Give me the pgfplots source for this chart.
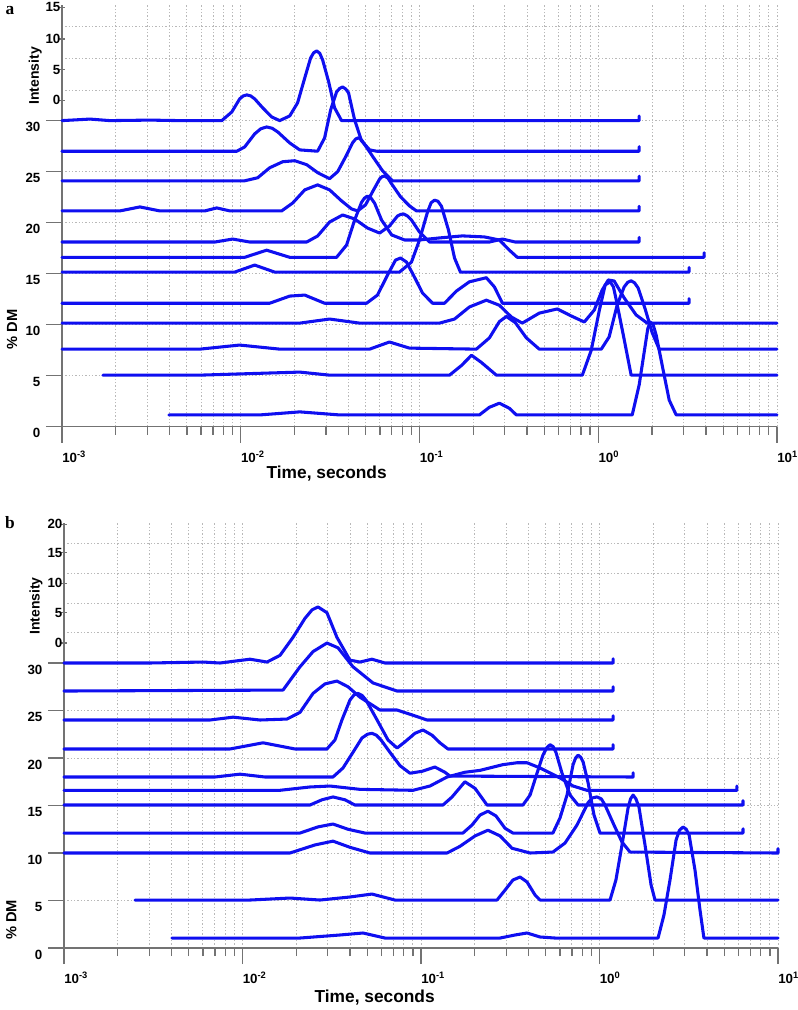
\documentclass[border=0pt]{standalone}
\usepackage{fontspec}
\setmainfont{Liberation Sans}
\newfontfamily\panelfont{Liberation Serif}
\usepackage{pgfplots}
\pgfplotsset{compat=1.18}
\definecolor{curveblue}{RGB}{15,15,240}
\definecolor{axisgray}{RGB}{115,115,115}
\definecolor{gridgray}{RGB}{185,185,185}
\pgfplotsset{
  wf/.style={
    scale only axis, xmin=-3, xmax=1, ymin=0,
    /pgf/number format/assume math mode=true,
    axis x line*=bottom, axis y line*=left,
    axis line style={-, draw=axisgray, line width=1.1pt},
    xtick={-3,-2,-1,0,1},
    xticklabels={10\textsuperscript{-3},10\textsuperscript{-2},10\textsuperscript{-1},10\textsuperscript{0},10\textsuperscript{1}},
    minor xtick={-2.69897,-2.52288,-2.39794,-2.30103,-2.22185,-2.15490,-2.09691,-2.04576,
                 -1.69897,-1.52288,-1.39794,-1.30103,-1.22185,-1.15490,-1.09691,-1.04576,
                 -0.69897,-0.52288,-0.39794,-0.30103,-0.22185,-0.15490,-0.09691,-0.04576,
                 0.30103,0.47712,0.60206,0.69897,0.77815,0.84510,0.90309,0.95424},
    ytick={0,5,10,15,20,25,30},
    tick align=outside, major tick length=12pt, minor tick length=6pt,
    tick style={draw=axisgray, line width=1pt},
    every minor y tick/.style={draw=none},
    xmajorgrids, xminorgrids, ymajorgrids, yminorgrids,
    grid style={draw=gridgray, line width=0.7pt, dash pattern=on 0.9pt off 1.6pt},
    minor grid style={draw=gridgray, line width=0.7pt, dash pattern=on 0.9pt off 1.6pt},
    ticklabel style={font=\bfseries\fontsize{10}{12}\selectfont},
    xticklabel style={anchor=north west, inner sep=0pt, yshift=-6pt},
    yticklabel style={anchor=east, inner sep=0pt, xshift=-4pt, yshift=-5pt},
    extra y tick style={major tick length=4pt, tick align=center, grid=none,
        yticklabel style={yshift=5pt, xshift=5pt}},
    clip=false,
  },
  cv/.style={line width=2.3pt, color=curveblue, line join=round, line cap=round},
}
\begin{document}
\begin{tikzpicture}[x=1pt,y=1pt]
\path[use as bounding box] (0,0) rectangle (597.75,-757.5);

% ---------------- panel a ----------------
\begin{axis}[wf, at={(46.5pt,-320pt)}, anchor=south west, width=536.25pt, height=316pt,
  ymax=41.3, minor ytick={33.0,36.1,39.2},
  extra y ticks={32,35,38,41.1}, extra y tick labels={0,5,10,15}]
\addplot[cv] coordinates {(-3,30) (-2.844,30.15) (-2.732,30) (-2.508,30.05) (-2.341,30) (-2.106,30) (-2.050,30.85) (-2.006,32.13) (-1.986,32.42) (-1.966,32.52) (-1.944,32.42) (-1.922,32.13) (-1.877,31.25) (-1.827,30.36) (-1.782,30) (-1.726,30.46) (-1.682,31.74) (-1.642,34.18) (-1.609,36.15) (-1.592,36.65) (-1.575,36.83) (-1.558,36.6) (-1.542,35.95) (-1.508,33.79) (-1.475,31.25) (-1.436,30) (0.229,30) (0.229,30.45)};
\addplot[cv] coordinates {(-3,27) (-2.022,27) (-1.978,27.42) (-1.922,28.7) (-1.888,29.2) (-1.855,29.38) (-1.824,29.25) (-1.793,28.89) (-1.726,27.81) (-1.670,27.13) (-1.570,27) (-1.531,28.3) (-1.497,31.05) (-1.464,32.81) (-1.447,33.15) (-1.430,33.3) (-1.413,33.1) (-1.397,32.72) (-1.363,30.07) (-1.324,28.01) (-1.279,27.13) (-1.240,27) (0.229,27) (0.229,27.45)};
\addplot[cv] coordinates {(-3,24.1) (-1.978,24.1) (-1.905,24.4) (-1.838,25.38) (-1.765,25.97) (-1.698,26.07) (-1.631,25.68) (-1.570,24.9) (-1.503,24.31) (-1.458,24.99) (-1.413,26.46) (-1.374,27.83) (-1.357,28.2) (-1.341,28.32) (-1.322,28.05) (-1.302,27.53) (-1.257,26.36) (-1.207,25.09) (-1.151,24.1) (0.229,24.1) (0.229,24.55)};
\addplot[cv] coordinates {(-3,21.15) (-2.676,21.15) (-2.564,21.54) (-2.453,21.15) (-2.201,21.15) (-2.134,21.44) (-2.061,21.15) (-1.771,21.15) (-1.709,21.93) (-1.642,23.21) (-1.570,23.7) (-1.503,23.21) (-1.436,22.13) (-1.380,21.34) (-1.346,21.15) (-1.302,21.74) (-1.257,23.21) (-1.223,24.28) (-1.210,24.5) (-1.196,24.58) (-1.176,24.35) (-1.156,23.8) (-1.106,22.53) (-1.056,21.64) (-1.017,21.15) (0.229,21.15) (0.229,21.6)};
\addplot[cv] coordinates {(-3,18.1) (-2.145,18.1) (-2.045,18.39) (-1.950,18.1) (-1.631,18.1) (-1.570,18.69) (-1.503,20.06) (-1.430,20.75) (-1.363,20.36) (-1.291,19.47) (-1.223,18.98) (-1.168,19.67) (-1.123,20.65) (-1.106,20.8) (-1.089,20.85) (-1.067,20.65) (-1.045,20.26) (-1.0,19.08) (-0.944,18.1) (-0.609,18.1) (-0.536,18.39) (-0.464,18.1) (0.229,18.1) (0.229,18.55)};
\addplot[cv] coordinates {(-3,16.6) (-1.978,16.6) (-1.855,17.3) (-1.726,16.6) (-1.464,16.6) (-1.408,17.8) (-1.363,20.25) (-1.324,22.0) (-1.308,22.4) (-1.291,22.6) (-1.271,22.4) (-1.251,21.9) (-1.212,20.25) (-1.156,18.8) (-1.084,18.3) (-1.0,18.3) (-0.888,18.5) (-0.760,18.7) (-0.637,18.6) (-0.553,18.3) (-0.497,17.3) (-0.453,16.6) (0.592,16.6) (0.592,17.05)};
\addplot[cv] coordinates {(-3,15.15) (-2.034,15.15) (-1.922,15.84) (-1.810,15.15) (-1.112,15.15) (-1.045,16.13) (-1.0,18.3) (-0.955,21.05) (-0.935,21.95) (-0.916,22.2) (-0.897,22.1) (-0.877,21.6) (-0.838,19.28) (-0.804,16.53) (-0.771,15.15) (0.508,15.15) (0.508,15.6)};
\addplot[cv] coordinates {(-3,12.1) (-1.838,12.1) (-1.726,12.8) (-1.642,12.9) (-1.531,12.1) (-1.296,12.1) (-1.235,12.9) (-1.179,14.86) (-1.134,16.33) (-1.106,16.53) (-1.073,16.14) (-1.034,14.86) (-0.983,13.1) (-0.927,12.1) (-0.860,12.1) (-0.793,13.3) (-0.721,14.2) (-0.626,14.6) (-0.581,13.7) (-0.536,12.1) (0.508,12.1) (0.508,12.55)};
\addplot[cv] coordinates {(-3,10.15) (-1.670,10.15) (-1.503,10.55) (-1.335,10.15) (-0.888,10.15) (-0.804,10.55) (-0.721,11.73) (-0.626,12.4) (-0.553,11.9) (-0.486,10.75) (-0.425,10.15) (-0.330,11.13) (-0.229,11.54) (-0.151,10.85) (-0.078,10.26) (-0.022,11.44) (0.022,13.4) (0.056,14.38) (0.089,14.28) (0.145,12.62) (0.212,10.95) (0.274,10.15) (1,10.15)};
\addplot[cv] coordinates {(-3,7.6) (-2.229,7.6) (-2.006,8.0) (-1.782,7.6) (-1.279,7.6) (-1.168,8.3) (-1.056,7.7) (-0.682,7.6) (-0.609,8.7) (-0.553,10.3) (-0.514,10.8) (-0.464,10.2) (-0.402,8.7) (-0.330,7.6) (0.017,7.6) (0.061,8.8) (0.106,11.94) (0.145,13.7) (0.165,14.15) (0.184,14.3) (0.203,14.1) (0.223,13.6) (0.263,11.5) (0.302,9.2) (0.341,7.6) (1,7.6)};
\addplot[cv] coordinates {(-2.771,5.05) (-2.229,5.05) (-1.670,5.35) (-1.503,5.05) (-0.832,5.05) (-0.765,6.0) (-0.709,7.0) (-0.654,6.3) (-0.570,5.05) (-0.089,5.05) (-0.039,7.5) (0.006,11.4) (0.039,13.9) (0.067,14.2) (0.085,13.7) (0.101,12.4) (0.140,9.0) (0.184,5.05) (1,5.05)};
\addplot[cv] coordinates {(-2.402,1.15) (-1.894,1.15) (-1.670,1.45) (-1.447,1.15) (-0.665,1.15) (-0.609,1.9) (-0.553,2.3) (-0.497,1.8) (-0.458,1.15) (0.190,1.15) (0.229,4.1) (0.263,8.0) (0.277,9.6) (0.291,10.26) (0.307,10.0) (0.324,8.98) (0.363,5.55) (0.397,2.6) (0.436,1.15) (1,1.15)};
\end{axis}

% ---------------- panel b ----------------
\begin{axis}[wf, at={(48pt,-711pt)}, anchor=south west, width=535.5pt, height=318.5pt,
  ymax=44.7, minor ytick={33.2,36.3,39.4,42.6},
  extra y ticks={32.1,35.3,38.4,41.6,44.6}, extra y tick labels={0,5,10,15,20}]
\addplot[cv] coordinates {(-3,30) (-2.518,30) (-2.221,30.1) (-2.126,30) (-1.958,30.4) (-1.863,30.1) (-1.790,30.8) (-1.717,32.7) (-1.650,34.7) (-1.610,35.6) (-1.577,35.9) (-1.527,35.3) (-1.471,32.7) (-1.398,30.3) (-1.342,30.1) (-1.275,30.4) (-1.202,30) (0.076,30) (0.076,30.45)};
\addplot[cv] coordinates {(-3,27.05) (-1.773,27.15) (-1.678,29.6) (-1.605,31.2) (-1.527,32.1) (-1.465,31.6) (-1.381,29.6) (-1.269,27.9) (-1.134,27.05) (0.076,27.05) (0.076,27.5)};
\addplot[cv] coordinates {(-3,24) (-2.182,24) (-2.053,24.3) (-1.902,24) (-1.751,24.1) (-1.678,24.8) (-1.605,26.8) (-1.538,27.8) (-1.471,28.1) (-1.409,27.5) (-1.342,26.4) (-1.230,25.05) (-1.134,25.05) (-1.045,24.5) (-0.966,24) (0.076,24) (0.076,24.45)};
\addplot[cv] coordinates {(-3,20.95) (-2.070,20.95) (-1.885,21.6) (-1.706,20.95) (-1.527,20.95) (-1.482,21.9) (-1.443,24.0) (-1.398,26.1) (-1.375,26.65) (-1.353,26.8) (-1.331,26.6) (-1.308,26.1) (-1.246,24.0) (-1.185,21.9) (-1.134,21.05) (-1.090,21.7) (-1.034,22.6) (-0.989,22.95) (-0.938,22.4) (-0.894,21.6) (-0.849,20.95) (0.076,20.95) (0.076,21.4)};
\addplot[cv] coordinates {(-3,18) (-2.154,18) (-2.014,18.3) (-1.874,18) (-1.493,18) (-1.437,18.95) (-1.381,20.6) (-1.331,22.1) (-1.300,22.5) (-1.275,22.6) (-1.250,22.4) (-1.224,21.9) (-1.174,20.6) (-1.118,19.2) (-1.062,18.4) (-0.994,18.6) (-0.922,19.05) (-0.866,18.5) (-0.838,18.1) (0.188,18) (0.188,18.45)};
\addplot[cv] coordinates {(-3,16.6) (-1.790,16.6) (-1.622,16.95) (-1.510,17.05) (-1.342,16.7) (-1.045,16.6) (-0.950,17.05) (-0.854,18.0) (-0.754,18.5) (-0.669,18.7) (-0.541,19.3) (-0.462,19.5) (-0.406,19.5) (-0.333,18.95) (-0.221,17.9) (-0.148,17.05) (-0.070,16.6) (0.770,16.6) (0.770,17.05)};
\addplot[cv] coordinates {(-3,15.05) (-1.622,15.05) (-1.555,15.6) (-1.493,15.9) (-1.426,15.6) (-1.370,15.05) (-0.877,15.05) (-0.826,15.9) (-0.754,17.5) (-0.697,16.8) (-0.630,15.05) (-0.429,15.05) (-0.389,16.1) (-0.350,18.4) (-0.317,20.3) (-0.295,21.1) (-0.277,21.4) (-0.260,21.2) (-0.244,20.6) (-0.210,18.4) (-0.165,16.1) (-0.120,15.05) (0.804,15.05) (0.804,15.5)};
\addplot[cv] coordinates {(-3,12.1) (-1.678,12.1) (-1.577,12.75) (-1.493,13.05) (-1.409,12.5) (-1.314,12.1) (-0.765,12.1) (-0.714,12.95) (-0.669,14.0) (-0.625,14.4) (-0.580,13.9) (-0.529,12.6) (-0.485,12.1) (-0.261,12.1) (-0.221,13.7) (-0.182,16.1) (-0.148,19.3) (-0.134,20.0) (-0.120,20.3) (-0.106,20.1) (-0.092,19.6) (-0.064,17.4) (-0.031,14.0) (0.003,12.1) (0.804,12.1) (0.804,12.55)};
\addplot[cv] coordinates {(-3,10) (-1.734,10) (-1.594,10.85) (-1.493,11.25) (-1.398,10.6) (-1.286,10) (-0.854,10) (-0.782,10.7) (-0.697,11.8) (-0.625,12.4) (-0.557,11.8) (-0.490,10.5) (-0.389,10) (-0.261,10.1) (-0.193,11.05) (-0.126,12.95) (-0.064,15.3) (-0.040,15.8) (-0.014,15.9) (0.010,15.7) (0.031,15.05) (0.081,12.95) (0.126,11.15) (0.171,10.1) (1,10) (1,10.45)};
\addplot[cv] coordinates {(-2.602,5.05) (-1.958,5.05) (-1.734,5.26) (-1.566,5.05) (-1.398,5.37) (-1.275,5.68) (-1.146,5.05) (-0.574,5.05) (-0.529,6.1) (-0.485,7.16) (-0.445,7.47) (-0.406,6.95) (-0.361,5.58) (-0.333,5.05) (0.059,5.05) (0.092,7.16) (0.126,10.84) (0.160,14.74) (0.174,15.7) (0.188,16.1) (0.204,15.7) (0.221,14.84) (0.255,10.84) (0.289,6.63) (0.311,5.05) (1,5.05)};
\addplot[cv] coordinates {(-2.395,1.05) (-1.678,1.05) (-1.454,1.37) (-1.325,1.58) (-1.202,1.05) (-0.557,1.05) (-0.473,1.37) (-0.406,1.58) (-0.333,1.16) (-0.249,1.05) (0.328,1.05) (0.361,3.47) (0.395,7.16) (0.429,11.37) (0.448,12.4) (0.468,12.74) (0.486,12.5) (0.502,11.9) (0.535,8.2) (0.563,4.0) (0.585,1.05) (1,1.05)};
\end{axis}

% ---------------- labels ----------------
\node[font=\panelfont\bfseries\fontsize{13}{15}\selectfont] at (7.5,-8) {a};
\node[font=\panelfont\bfseries\fontsize{13}{15}\selectfont] at (7.5,-392) {b};
\node[font=\bfseries\fontsize{10.5}{12}\selectfont, rotate=90] at (26.5,-57) {Intensity};
\node[font=\bfseries\fontsize{10.5}{12}\selectfont, rotate=90] at (27,-454.5) {Intensity};
\node[font=\bfseries\fontsize{11}{13}\selectfont, rotate=90] at (9,-247) {\% DM};
\node[font=\bfseries\fontsize{11}{13}\selectfont, rotate=90] at (8.5,-690) {\% DM};
\node[font=\bfseries\fontsize{13}{15}\selectfont] at (245,-355) {Time, seconds};
\node[font=\bfseries\fontsize{13}{15}\selectfont] at (281,-748.5) {Time, seconds};
\end{tikzpicture}
\end{document}
